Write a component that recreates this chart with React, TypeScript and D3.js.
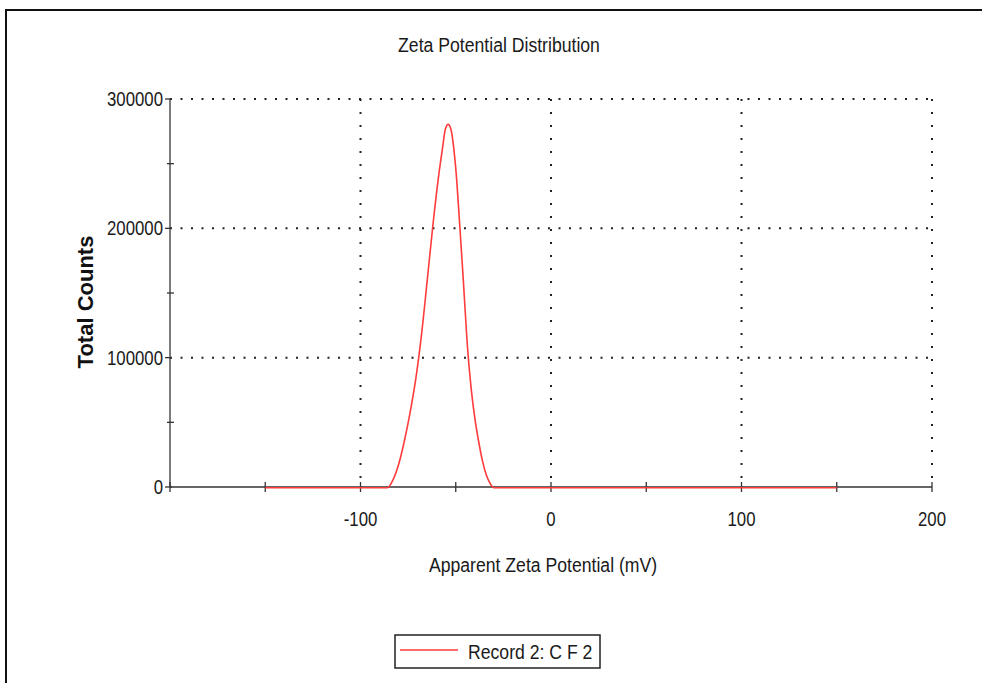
import React, { useEffect, useRef } from 'react';
import * as d3 from 'd3';

// zeta potential (mV) and total counts
const zeta = [-150, -86, -83, -80, -77, -74, -71, -68, -65, -62, -59, -57, -55.5, -54, -52.5, -51, -49.5, -48, -46, -44, -42, -40, -38, -36, -34, -32, -30, 150];
const counts = [0, 0, 6000, 18000, 36000, 58000, 84000, 118000, 160000, 203000, 241000, 262000, 277000, 281000, 277000, 262000, 238000, 205000, 160000, 112000, 78000, 54000, 36000, 21000, 10000, 3500, 0, 0];

const xLabels = ['-100', '0', '100', '200'];
const xMajor = [-200, -100, 0, 100, 200];
const xMinor = [-150, -50, 50, 150];
const yMajor = [0, 100000, 200000, 300000];
const yMinor = [50000, 150000, 250000];
const yGrid = [100000, 200000, 300000];
const xGrid = [-100, 0, 100, 200];

const title = 'Zeta Potential Distribution';
const xTitle = 'Apparent Zeta Potential (mV)';
const yTitle = 'Total Counts';
const legendLabel = 'Record 2: C F 2';

const sans = "'Liberation Sans', Arial, sans-serif";
const squeeze = 0.84; // the original uses a narrow face

const App = () => {
  const svgRef = useRef(null);

  useEffect(() => {
    const svg = d3.select(svgRef.current);
    svg.selectAll('*').remove();
    const width = 982;
    const height = 683;
    svg.attr('width', width).attr('height', height);

    const x = d3.scaleLinear().domain([-200, 200]).range([170, 932]);
    const y = d3.scaleLinear().domain([0, 300000]).range([487, 99]);

    // narrow text helper
    const narrowText = (g, tx, ty, str, size, anchor = 'middle') =>
      g.append('text')
        .attr('transform', `translate(${tx},${ty}) scale(${squeeze},1)`)
        .attr('text-anchor', anchor)
        .style('font-family', sans)
        .style('font-size', `${size}px`)
        .style('fill', '#1a1a1a')
        .text(str);

    // outer frame (only left and top edges are inside the picture)
    svg.append('path')
      .attr('d', 'M6,700 L6,10 L990,10')
      .attr('fill', 'none')
      .attr('stroke', '#111')
      .attr('stroke-width', 2);

    narrowText(svg, 499, 52, title, 21);

    // dotted grid
    svg.append('g').selectAll('line').data(yGrid).join('line')
      .attr('x1', x(-200)).attr('x2', x(200))
      .attr('y1', d => y(d)).attr('y2', d => y(d))
      .attr('stroke', '#222')
      .attr('stroke-width', 2)
      .attr('stroke-dasharray', '2,8.5');

    svg.append('g').selectAll('line').data(xGrid).join('line')
      .attr('x1', d => x(d)).attr('x2', d => x(d))
      .attr('y1', y(300000)).attr('y2', y(0))
      .attr('stroke', '#222')
      .attr('stroke-width', 2)
      .attr('stroke-dasharray', '2,11');

    // axes
    const axes = svg.append('g').attr('stroke', '#333').attr('stroke-width', 1.3);
    axes.append('line')
      .attr('x1', x(-200)).attr('x2', x(200))
      .attr('y1', y(0)).attr('y2', y(0));
    axes.append('line')
      .attr('x1', x(-200)).attr('x2', x(-200))
      .attr('y1', y(300000)).attr('y2', y(0));

    axes.selectAll('.xt').data(xMajor.concat(xMinor)).join('line')
      .attr('x1', d => x(d)).attr('x2', d => x(d))
      .attr('y1', y(0) - 5).attr('y2', y(0) + 5);

    axes.selectAll('.yt').data(yMajor).join('line')
      .attr('x1', x(-200) - 5).attr('x2', x(-200) + 2)
      .attr('y1', d => y(d)).attr('y2', d => y(d));

    axes.selectAll('.ym').data(yMinor).join('line')
      .attr('x1', x(-200) - 3).attr('x2', x(-200) + 4)
      .attr('y1', d => y(d)).attr('y2', d => y(d));

    const yl = svg.append('g');
    yMajor.forEach(d => narrowText(yl, 163, y(d) + 7, String(d), 20, 'end'));

    const xl = svg.append('g');
    xLabels.forEach(d => narrowText(xl, x(+d), 526, d, 20));

    narrowText(svg, 543, 572, xTitle, 21);

    svg.append('text')
      .attr('transform', 'translate(93,302) rotate(-90)')
      .attr('text-anchor', 'middle')
      .style('font-family', sans)
      .style('font-weight', 'bold')
      .style('font-size', '22px')
      .style('fill', '#111')
      .text(yTitle);

    // distribution curve
    const line = d3.line()
      .x((d, i) => x(zeta[i]))
      .y(d => y(d) + 0.8)
      .curve(d3.curveMonotoneX);

    svg.append('path')
      .datum(counts)
      .attr('fill', 'none')
      .attr('stroke', '#ff3b3b')
      .attr('stroke-width', 1.6)
      .attr('d', line);

    // legend
    const lg = svg.append('g');
    lg.append('rect')
      .attr('x', 395).attr('y', 635)
      .attr('width', 205).attr('height', 33)
      .attr('fill', 'white')
      .attr('stroke', '#222')
      .attr('stroke-width', 1.5);
    lg.append('line')
      .attr('x1', 400).attr('x2', 458)
      .attr('y1', 650).attr('y2', 650)
      .attr('stroke', '#ff3b3b')
      .attr('stroke-width', 1.6);
    narrowText(lg, 468, 659, legendLabel, 21, 'start');
  }, []);

  return (
    <div id="zeta-chart" style={{ position: 'absolute', left: 0, top: 0 }}>
      <svg ref={svgRef} style={{ display: 'block' }}></svg>
    </div>
  );
};

export default App;
